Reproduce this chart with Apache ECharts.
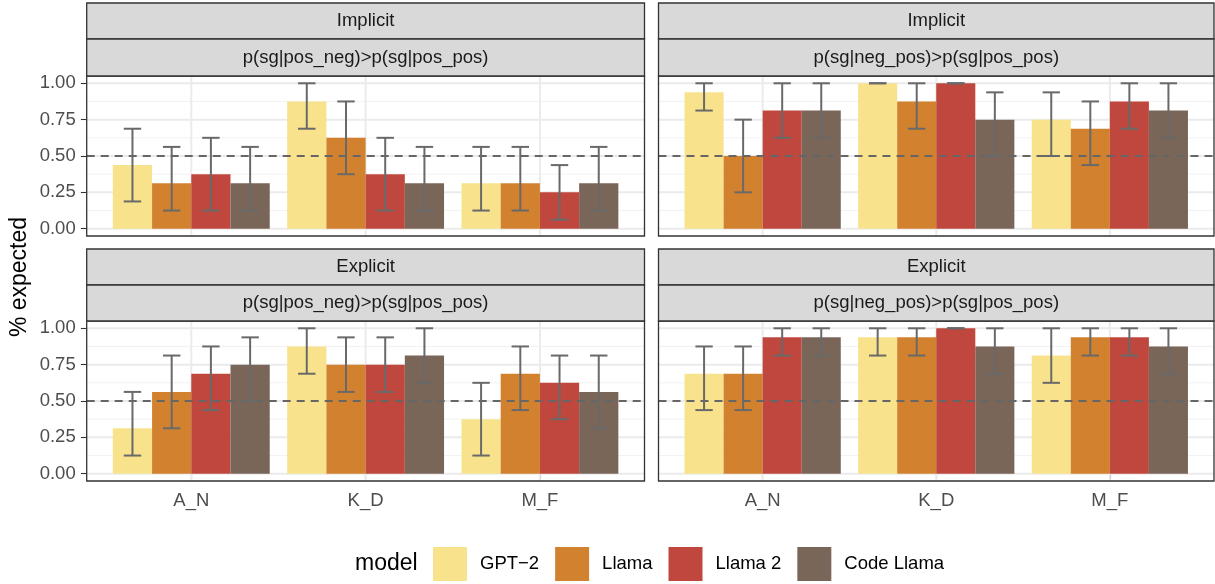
<!DOCTYPE html>
<html><head><meta charset="utf-8">
<script src="https://cdn.jsdelivr.net/npm/echarts@6/dist/echarts.min.js"></script>
<style>html,body{margin:0;padding:0;background:#fff}#c{width:1215px;height:584px}</style>
</head><body><div id="c"></div>
<script>
// ---------- data ----------
const categories = ['A_N', 'K_D', 'M_F'];
const models = ['GPT\u22122', 'Llama', 'Llama 2', 'Code Llama'];
const rowLabels = ['Implicit', 'Explicit'];
const colLabels = ['p(sg|pos_neg)>p(sg|pos_pos)', 'p(sg|neg_pos)>p(sg|pos_pos)'];
const yTicks = [0, 0.25, 0.5, 0.75, 1];
const yMinor = [0.125, 0.375, 0.625, 0.875];
const refLine = 0.5;

// Implicit, p(sg|pos_neg)>p(sg|pos_pos)   [model][category]
const impPosNegMean = [[0.4375, 0.875, 0.3125], [0.3125, 0.625, 0.3125], [0.375, 0.375, 0.25], [0.3125, 0.3125, 0.3125]];
const impPosNegLo   = [[0.1875, 0.6875, 0.125], [0.125, 0.375, 0.125], [0.125, 0.125, 0.0625], [0.125, 0.125, 0.125]];
const impPosNegHi   = [[0.6875, 1.0, 0.5625], [0.5625, 0.875, 0.5625], [0.625, 0.625, 0.4375], [0.5625, 0.5625, 0.5625]];
// Implicit, p(sg|neg_pos)>p(sg|pos_pos)
const impNegPosMean = [[0.9375, 1.0, 0.75], [0.5, 0.875, 0.6875], [0.8125, 1.0, 0.875], [0.8125, 0.75, 0.8125]];
const impNegPosLo   = [[0.8125, 1.0, 0.5], [0.25, 0.6875, 0.4375], [0.625, 1.0, 0.6875], [0.625, 0.5, 0.625]];
const impNegPosHi   = [[1.0, 1.0, 0.9375], [0.75, 1.0, 0.875], [1.0, 1.0, 1.0], [1.0, 0.9375, 1.0]];
// Explicit, p(sg|pos_neg)>p(sg|pos_pos)
const expPosNegMean = [[0.3125, 0.875, 0.375], [0.5625, 0.75, 0.6875], [0.6875, 0.75, 0.625], [0.75, 0.8125, 0.5625]];
const expPosNegLo   = [[0.125, 0.6875, 0.125], [0.3125, 0.5625, 0.4375], [0.4375, 0.5625, 0.375], [0.5, 0.625, 0.3125]];
const expPosNegHi   = [[0.5625, 1.0, 0.625], [0.8125, 0.9375, 0.875], [0.875, 0.9375, 0.8125], [0.9375, 1.0, 0.8125]];
// Explicit, p(sg|neg_pos)>p(sg|pos_pos)
const expNegPosMean = [[0.6875, 0.9375, 0.8125], [0.6875, 0.9375, 0.9375], [0.9375, 1.0, 0.9375], [0.9375, 0.875, 0.875]];
const expNegPosLo   = [[0.4375, 0.8125, 0.625], [0.4375, 0.8125, 0.8125], [0.8125, 1.0, 0.8125], [0.8125, 0.6875, 0.6875]];
const expNegPosHi   = [[0.875, 1.0, 1.0], [0.875, 1.0, 1.0], [1.0, 1.0, 1.0], [1.0, 1.0, 1.0]];

// ---------- style / layout ----------
const colors = ['#F8E38C', '#D2822F', '#BF473E', '#7A6559'];
const FONT = 'Liberation Sans, Arial, Helvetica, sans-serif';
const panelX = [[86.7, 644.5], [658.5, 1214]];
const panelY = [[76, 236], [321, 481]];
const stripY = [[[3, 39], [39, 76]], [[249, 285], [285, 321]]];

const panels = [
  {r: 0, c: 0, mean: impPosNegMean, lo: impPosNegLo, hi: impPosNegHi},
  {r: 0, c: 1, mean: impNegPosMean, lo: impNegPosLo, hi: impNegPosHi},
  {r: 1, c: 0, mean: expPosNegMean, lo: expPosNegLo, hi: expPosNegHi},
  {r: 1, c: 1, mean: expNegPosMean, lo: expNegPosLo, hi: expNegPosHi}
];

const grids = [], xAxes = [], yAxes = [], series = [], graphics = [];

function frame(api) {
  const band = api.size([1, 0])[0];
  const y1 = api.coord([0, 1])[1], y0 = api.coord([0, 0])[1];
  const unit = y0 - y1;
  return {
    band: band,
    xl: api.coord([0, 0])[0] - 0.6 * band,
    xr: api.coord([2, 0])[0] + 0.6 * band,
    yt: y1 - 0.05 * unit,
    yb: y0 + 0.05 * unit
  };
}

panels.forEach((p, gi) => {
  const [px0, px1] = panelX[p.c];
  const [py0, py1] = panelY[p.r];
  const band = (px1 - px0) / 3.2;
  const unit = (py1 - py0) / 1.1;
  grids.push({left: px0 + 0.1 * band, width: 3 * band, top: py0 + 0.05 * unit, height: unit, containLabel: false});
  xAxes.push({
    type: 'category', gridIndex: gi, data: categories, boundaryGap: true,
    offset: 0.05 * unit,
    axisLine: {show: false},
    axisTick: {show: p.r === 1, alignWithLabel: true, length: 5.8, lineStyle: {color: '#333333', width: 1.1}},
    axisLabel: {show: p.r === 1, fontSize: 18.5, color: '#4D4D4D', margin: 10, fontFamily: FONT},
    splitLine: {show: false}
  });
  yAxes.push({
    type: 'value', gridIndex: gi, min: 0, max: 1, interval: 0.25,
    offset: 0.1 * band,
    axisLine: {show: false},
    axisTick: {show: p.c === 0, length: 5.8, lineStyle: {color: '#333333', width: 1.1}},
    axisLabel: {show: p.c === 0, fontSize: 18.5, color: '#4D4D4D', margin: 11, fontFamily: FONT,
      formatter: v => v.toFixed(2)},
    splitLine: {show: false}
  });

  // background grid lines
  series.push({
    type: 'custom', xAxisIndex: gi, yAxisIndex: gi, z: 1, silent: true,
    data: [[0, 0]],
    renderItem: (params, api) => {
      const f = frame(api);
      const ch = [];
      yMinor.forEach(v => {
        const y = api.coord([0, v])[1];
        ch.push({type: 'line', shape: {x1: f.xl, y1: y, x2: f.xr, y2: y}, style: {stroke: '#F2F2F2', lineWidth: 1}});
      });
      yTicks.forEach(v => {
        const y = api.coord([0, v])[1];
        ch.push({type: 'line', shape: {x1: f.xl, y1: y, x2: f.xr, y2: y}, style: {stroke: '#EBEBEB', lineWidth: 2}});
      });
      categories.forEach((_, i) => {
        const x = api.coord([i, 0])[0];
        ch.push({type: 'line', shape: {x1: x, y1: f.yt, x2: x, y2: f.yb}, style: {stroke: '#EBEBEB', lineWidth: 2}});
      });
      return {type: 'group', children: ch};
    }
  });

  // bars
  models.forEach((m, mi) => {
    series.push({
      type: 'bar', name: m, xAxisIndex: gi, yAxisIndex: gi, z: 2,
      data: p.mean[mi], barGap: '0%', barCategoryGap: '10%',
      itemStyle: {color: colors[mi]}
    });
  });

  // dashed reference line
  series.push({
    type: 'custom', xAxisIndex: gi, yAxisIndex: gi, z: 3, silent: true,
    data: [[0, refLine]],
    renderItem: (params, api) => {
      const f = frame(api);
      const y = api.coord([0, refLine])[1];
      return {type: 'line', shape: {x1: f.xl, y1: y, x2: f.xr, y2: y},
        style: {stroke: '#666666', lineWidth: 1.8, lineDash: [8, 6]}};
    }
  });

  // error bars
  const ebData = [];
  models.forEach((m, mi) => {
    categories.forEach((c, ci) => { ebData.push([ci, p.lo[mi][ci], p.hi[mi][ci], mi]); });
  });
  series.push({
    type: 'custom', xAxisIndex: gi, yAxisIndex: gi, z: 4, silent: true,
    data: ebData,
    encode: {x: 0, y: [1, 2]},
    renderItem: (params, api) => {
      const band = api.size([1, 0])[0];
      const barW = band * 0.9 / 4;
      const ci = api.value(0), mi = api.value(3);
      const x = api.coord([ci, 0])[0] + (mi - 1.5) * barW;
      const yl = api.coord([ci, api.value(1)])[1];
      const yh = api.coord([ci, api.value(2)])[1];
      const hw = 0.05 * band;
      const st = {stroke: '#696969', lineWidth: 2};
      return {type: 'group', children: [
        {type: 'line', shape: {x1: x, y1: yl, x2: x, y2: yh}, style: st},
        {type: 'line', shape: {x1: x - hw, y1: yl, x2: x + hw, y2: yl}, style: st},
        {type: 'line', shape: {x1: x - hw, y1: yh, x2: x + hw, y2: yh}, style: st}
      ]};
    }
  });

  // panel border
  graphics.push({type: 'rect', z: 100, silent: true,
    shape: {x: px0, y: py0, width: px1 - px0, height: py1 - py0},
    style: {fill: 'none', stroke: '#333333', lineWidth: 1.3}});
  // strips
  const labels = [rowLabels[p.r], colLabels[p.c]];
  stripY[p.r].forEach((sy, si) => {
    graphics.push({type: 'rect', z: 100, silent: true,
      shape: {x: px0, y: sy[0], width: px1 - px0, height: sy[1] - sy[0]},
      style: {fill: '#D9D9D9', stroke: '#333333', lineWidth: 1.3}});
    graphics.push({type: 'text', z: 101, silent: true,
      x: (px0 + px1) / 2, y: (sy[0] + sy[1]) / 2,
      style: {text: labels[si], fontSize: 18.5, fontFamily: FONT, fill: '#1A1A1A', align: 'center', verticalAlign: 'middle'}});
  });
});

// axis title & legend title
graphics.push({type: 'text', x: 20, y: 277, rotation: Math.PI / 2, silent: true,
  style: {text: '% expected', fontSize: 23, fontFamily: FONT, fill: '#000000', align: 'center', verticalAlign: 'middle'}});
graphics.push({type: 'text', x: 355, y: 564, silent: true,
  style: {text: 'model', fontSize: 23, fontFamily: FONT, fill: '#000000', align: 'left', verticalAlign: 'middle'}});

const chart = echarts.init(document.getElementById('c'), null, {renderer: 'canvas'});
chart.setOption({
  animation: false,
  backgroundColor: '#ffffff',
  textStyle: {fontFamily: FONT},
  grid: grids, xAxis: xAxes, yAxis: yAxes, series: series,
  graphic: graphics,
  legend: {
    data: models, left: 433, top: 547, padding: 0, icon: 'rect',
    itemWidth: 34, itemHeight: 34, itemGap: 16, selectedMode: false,
    textStyle: {fontSize: 18.5, color: '#000000', fontFamily: FONT, padding: [0, 0, 0, 8]}
  },
  tooltip: {show: false}
});
</script></body></html>
